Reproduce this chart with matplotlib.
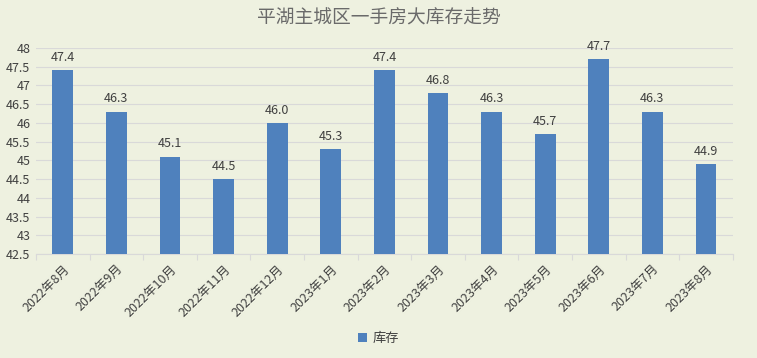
import numpy as np
import matplotlib.pyplot as plt

plt.rcParams['font.family'] = ['Noto Sans CJK SC', 'DejaVu Sans']

months = ['2022年8月', '2022年9月', '2022年10月', '2022年11月', '2022年12月',
          '2023年1月', '2023年2月', '2023年3月', '2023年4月', '2023年5月',
          '2023年6月', '2023年7月', '2023年8月']
stock = [47.4, 46.3, 45.1, 44.5, 46.0, 45.3, 47.4, 46.8, 46.3, 45.7, 47.7, 46.3, 44.9]
yticks = [42.5, 43, 43.5, 44, 44.5, 45, 45.5, 46, 46.5, 47, 47.5, 48]

bg = '#EEF1E0'
bar_color = '#4F81BD'
text_color = '#404040'
grid_color = '#D9D9D9'

fig = plt.figure(figsize=(7.57, 3.58), dpi=100, facecolor=bg)
ax = fig.add_axes([0.0476, 0.2905, 0.9204, 0.5755], facecolor=bg)

x = np.arange(len(months))
ax.bar(x, stock, width=0.39, color=bar_color, bottom=0, zorder=3, label='库存')
for xi, v in zip(x, stock):
    ax.text(xi, v + 0.17, f'{v:.1f}', ha='center', va='bottom', fontsize=9, color=text_color)

ax.set_ylim(42.5, 48)
ax.set_xlim(-0.5, len(months) - 0.5)
ax.set_yticks(yticks)
ax.set_yticklabels([f'{t:g}' for t in yticks], fontsize=9, color=text_color)
ax.yaxis.grid(True, color=grid_color, linewidth=0.8, zorder=0)
ax.tick_params(axis='y', length=0, pad=4)

ax.set_xticks(x)
ax.set_xticklabels(months, rotation=45, ha='right', rotation_mode='anchor',
                   fontsize=9, color=text_color)
ax.tick_params(axis='x', length=0, pad=6)
ax.set_xticks(np.arange(-0.5, len(months)), minor=True)
ax.tick_params(axis='x', which='minor', length=4, color=grid_color, width=0.8)

for s in ['top', 'right', 'left']:
    ax.spines[s].set_visible(False)
ax.spines['bottom'].set_color(grid_color)
ax.spines['bottom'].set_linewidth(0.8)

fig.text(0.5, 0.95, '平湖主城区一手房大库存走势', ha='center', va='center',
         fontsize=13.5, color='#6A6A6A', fontweight='light')

fig.legend(loc='center', bbox_to_anchor=(0.5, 0.055), frameon=False,
           fontsize=9.5, handlelength=0.7, handleheight=0.7, handletextpad=0.4,
           labelcolor=text_color)

fig.savefig('out.png', dpi=100, facecolor=bg)
